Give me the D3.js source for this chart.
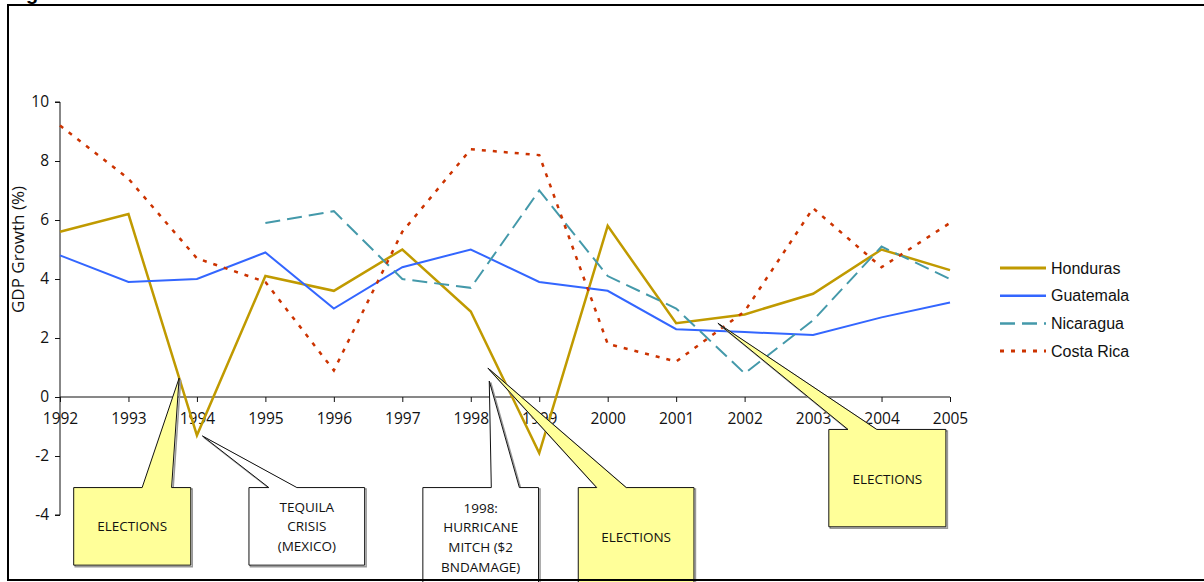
<!DOCTYPE html>
<html>
<head>
<meta charset="utf-8">
<script src="https://cdn.jsdelivr.net/npm/d3@7"></script>
<style>
  body { margin: 0; background: #fff; }
  svg { display: block; }
  .tick text { font-family: "Open Sans", sans-serif; font-size: 15.5px; fill: #111; }
  .note { font-family: "Open Sans", sans-serif; font-size: 13.5px; fill: #111; }
  .legend-label { font-family: "Liberation Sans", Arial, sans-serif; font-size: 16px; fill: #111; }
</style>
</head>
<body>
<div id="chart"></div>
<script>
// data
const years = [1992, 1993, 1994, 1995, 1996, 1997, 1998, 1999, 2000, 2001, 2002, 2003, 2004, 2005];
const honduras = [5.6, 6.2, -1.3, 4.1, 3.6, 5.0, 2.9, -1.9, 5.8, 2.5, 2.8, 3.5, 5.0, 4.3];
const guatemala = [4.8, 3.9, 4.0, 4.9, 3.0, 4.4, 5.0, 3.9, 3.6, 2.3, 2.2, 2.1, 2.7, 3.2];
const nicaragua = [null, null, null, 5.9, 6.3, 4.0, 3.7, 7.0, 4.1, 3.0, 0.8, 2.6, 5.1, 4.0];
const costaRica = [9.2, 7.4, 4.7, 3.9, 0.9, 5.6, 8.4, 8.2, 1.8, 1.2, 2.9, 6.4, 4.4, 5.9];
const yTicks = [-4, -2, 0, 2, 4, 6, 8, 10];

const seriesNames = ["Honduras", "Guatemala", "Nicaragua", "Costa Rica"];
const seriesValues = [honduras, guatemala, nicaragua, costaRica];
const seriesColors = ["#C09A00", "#3366FF", "#4499AA", "#CC3300"];
const seriesDash = [null, null, "15,7", "4,7"];
const seriesWidth = [2.5, 2, 2, 2.5];

// callouts: tip in data units, box in data units [x0, x1, yTop, yBottom], pointer base on box top,
// textY = value where the text block is centred
const notes = [
  { text: ["ELECTIONS"], fill: "#FFFF99", tip: [1993.74, 0.64], box: [1992.2, 1993.91, -3.07, -5.7], base: [1993.2, 1993.63], textY: -4.39 },
  { text: ["TEQUILA", "CRISIS", "(MEXICO)"], fill: "#FFFFFF", tip: [1994.08, -1.32], box: [1994.76, 1996.45, -3.07, -5.7], base: [1995.05, 1995.46], textY: -4.39 },
  { text: ["1998:", "HURRICANE", "MITCH ($2", "BNDAMAGE)"], fill: "#FFFFFF", tip: [1998.27, 0.54], box: [1997.3, 1998.99, -3.07, -6.5], base: [1998.3, 1998.71], textY: -4.76 },
  { text: ["ELECTIONS"], fill: "#FFFF99", tip: [1998.25, 0.98], box: [1999.57, 2001.26, -3.07, -6.5], base: [1999.84, 2000.27], textY: -4.74 },
  { text: ["ELECTIONS"], fill: "#FFFF99", tip: [2001.61, 2.5], box: [2003.23, 2004.94, -1.1, -4.4], base: [2003.51, 2003.93], textY: -2.8 }
];

const W = 1204, H = 582;
const x = d3.scaleLinear().domain([1992, 2005]).range([60, 950]);
const y = d3.scaleLinear().domain([-4, 10]).range([515, 102]);

const svg = d3.select("#chart").append("svg").attr("width", W).attr("height", H);

// clipped title glyph at the top
svg.append("text").attr("x", 26).attr("y", 0)
  .attr("font-family", "Liberation Sans, Arial, sans-serif").attr("font-weight", "bold")
  .attr("font-size", 20).text("g");

const fmt = d => String(d);

// axes
const yAxis = d3.axisLeft(y).tickValues(yTicks).tickSize(5).tickPadding(6).tickFormat(fmt);
const gy = svg.append("g").attr("transform", "translate(60,0)").call(yAxis);
gy.select(".domain").attr("d", `M-5,${y(10)}H0V${y(-4)}H-5`);

const xAxis = d3.axisBottom(x).tickValues(years).tickSize(5).tickPadding(11).tickFormat(fmt);
const gx = svg.append("g").attr("transform", `translate(0,${y(0)})`).call(xAxis);
gx.select(".domain").attr("d", `M${x(1992)},0H${x(2005)}`);
svg.selectAll(".domain, .tick line").attr("stroke", "#111");

svg.append("text")
  .attr("transform", `translate(24,${y(5)}) rotate(-90)`)
  .attr("text-anchor", "middle")
  .attr("font-family", "Open Sans, sans-serif").attr("font-size", 17).attr("fill", "#111")
  .text("GDP Growth (%)");

// lines
const line = d3.line()
  .defined(d => d[1] !== null)
  .x(d => x(d[0])).y(d => y(d[1]));

seriesValues.forEach((vals, i) => {
  svg.append("path")
    .datum(years.map((yr, j) => [yr, vals[j]]))
    .attr("fill", "none")
    .attr("stroke", seriesColors[i])
    .attr("stroke-width", seriesWidth[i])
    .attr("stroke-dasharray", seriesDash[i])
    .attr("d", line);
});

// callouts
const notesG = svg.append("g");
notes.forEach(n => {
  const x0 = x(n.box[0]), x1 = x(n.box[1]);
  const y0 = y(n.box[2]), y1 = y(n.box[3]);
  const b0 = x(n.base[0]), b1 = x(n.base[1]);
  const tx = x(n.tip[0]), ty = y(n.tip[1]);
  const d = `M${x0},${y0}H${b0}L${tx},${ty}L${b1},${y0}H${x1}V${y1}H${x0}Z`;
  notesG.append("path").attr("d", d).attr("transform", "translate(1.5,1.5)")
    .attr("fill", "none").attr("stroke", "#999").attr("stroke-width", 1.5);
  notesG.append("path").attr("d", d)
    .attr("fill", n.fill).attr("stroke", "#111").attr("stroke-width", 1);
  const cx = (x0 + x1) / 2;
  const cy = y(n.textY);
  const lh = 19.7;
  n.text.forEach((t, k) => {
    notesG.append("text").attr("class", "note")
      .attr("x", cx)
      .attr("y", cy + (k - (n.text.length - 1) / 2) * lh)
      .attr("dy", "0.35em")
      .attr("text-anchor", "middle")
      .text(t);
  });
});

// legend
const legend = svg.append("g").attr("transform", "translate(1000,268)");
seriesNames.forEach((name, i) => {
  const row = legend.append("g").attr("transform", `translate(0,${i * 27.7})`);
  row.append("line").attr("x1", 0).attr("x2", 46).attr("y1", 0).attr("y2", 0)
    .attr("stroke", seriesColors[i]).attr("stroke-width", seriesWidth[i] + 0.5)
    .attr("stroke-dasharray", seriesDash[i]);
  row.append("text").attr("class", "legend-label").attr("x", 51).attr("dy", "0.35em").text(name);
});

// frame
svg.append("rect").attr("x", 8).attr("y", 5).attr("width", 1210).attr("height", 575)
  .attr("fill", "none").attr("stroke", "#000").attr("stroke-width", 2);
</script>
</body>
</html>
